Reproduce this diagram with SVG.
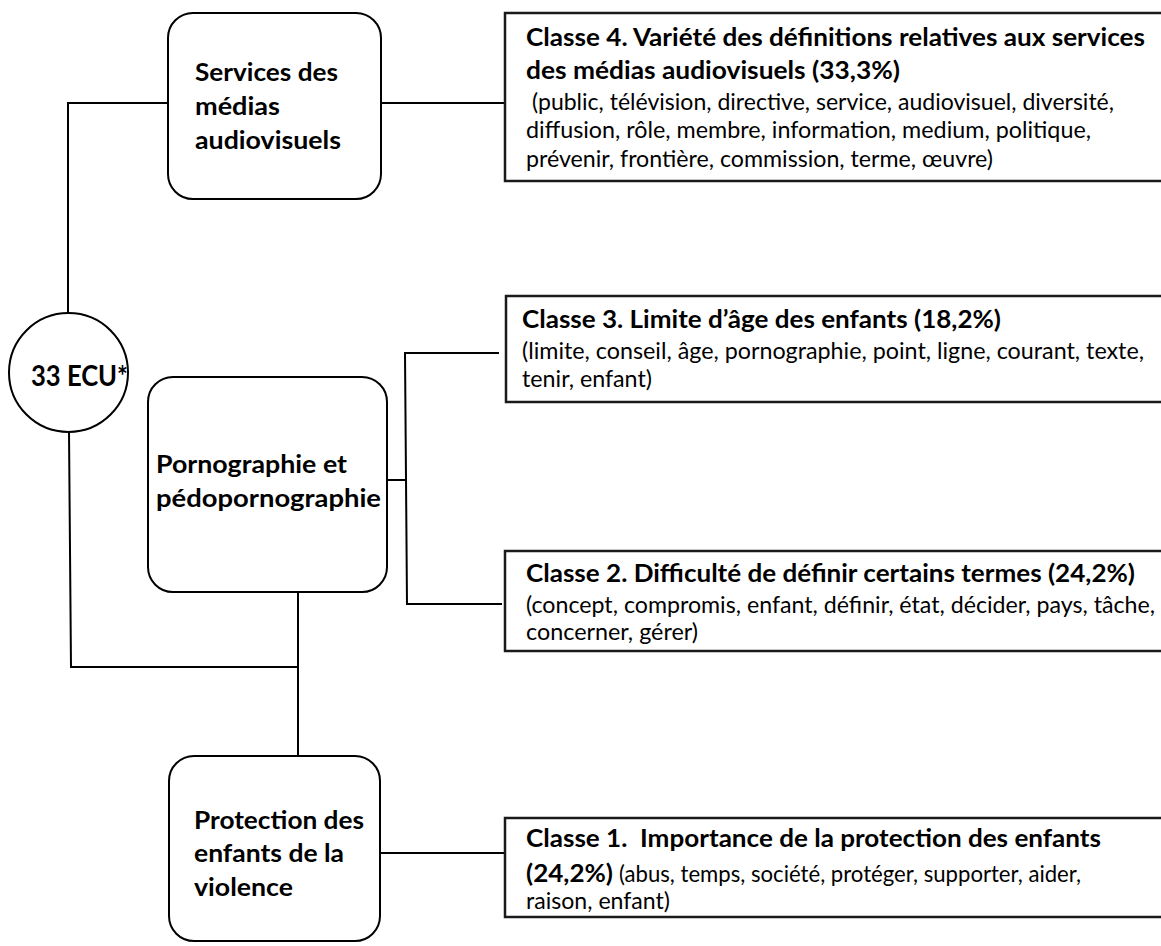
<svg xmlns="http://www.w3.org/2000/svg" width="1161" height="946" viewBox="0 0 1161 946">
<style>
.node{fill:#fff;stroke:#000;stroke-width:2}
.cls{fill:#fff;stroke:#1a1a1a;stroke-width:2.5}
.conn{fill:none;stroke:#000;stroke-width:2}
.lbl{font-family:Lato,"Liberation Sans",sans-serif;font-weight:700;font-size:25.5px;fill:#000}
.ecu{font-family:Lato,"Liberation Sans",sans-serif;font-weight:700;font-size:28px;fill:#000}
.ttl{font-family:Lato,"Liberation Sans",sans-serif;font-weight:700;font-size:24.5px;fill:#000}
.dsc{font-family:Lato,"Liberation Sans",sans-serif;font-weight:400;font-size:22.5px;fill:#000}
</style>
<rect width="1161" height="946" fill="#fff"/>
<g id="connectors">
<path class="conn" d="M68 313 V103 H168"/>
<path class="conn" d="M381 103 H505"/>
<path class="conn" d="M69 432 L71 667 H298"/>
<path class="conn" d="M298 592 V756"/>
<path class="conn" d="M387 480 H405"/>
<path class="conn" d="M499 353 H405 L407 604 H502"/>
<path class="conn" d="M380 853 H505"/>
</g>
<g id="root">
<circle class="node" cx="68.5" cy="372.5" r="59.5"/>
<text class="ecu" x="31" y="386" textLength="97" lengthAdjust="spacingAndGlyphs">33 ECU*</text>
</g>
<g id="services">
<rect class="node" x="168" y="13" width="213" height="186" rx="25"/>
<text class="lbl" x="195" y="81" textLength="143" lengthAdjust="spacingAndGlyphs">Services des</text>
<text class="lbl" x="195" y="115" textLength="85" lengthAdjust="spacingAndGlyphs">médias</text>
<text class="lbl" x="195" y="149" textLength="146" lengthAdjust="spacingAndGlyphs">audiovisuels</text>
</g>
<g id="pornographie">
<rect class="node" x="148" y="377" width="239" height="215" rx="25"/>
<text class="lbl" x="156" y="473" textLength="191" lengthAdjust="spacingAndGlyphs">Pornographie et</text>
<text class="lbl" x="156" y="507" textLength="225" lengthAdjust="spacingAndGlyphs">pédopornographie</text>
</g>
<g id="protection">
<rect class="node" x="169" y="756" width="211" height="185" rx="25"/>
<text class="lbl" x="194" y="829" textLength="170" lengthAdjust="spacingAndGlyphs">Protection des</text>
<text class="lbl" x="194" y="862" textLength="150" lengthAdjust="spacingAndGlyphs">enfants de la</text>
<text class="lbl" x="194" y="896" textLength="99" lengthAdjust="spacingAndGlyphs">violence</text>
</g>
<g id="classe4">
<rect class="cls" x="505" y="13" width="700" height="168"/>
<text class="ttl" x="526" y="46" textLength="619" lengthAdjust="spacingAndGlyphs">Classe 4. Variété des définitions relatives aux services</text>
<text class="ttl" x="526" y="79" textLength="374" lengthAdjust="spacingAndGlyphs">des médias audiovisuels (33,3%)</text>
<text class="dsc" x="532" y="110" textLength="582" lengthAdjust="spacingAndGlyphs">(public, télévision, directive, service, audiovisuel, diversité,</text>
<text class="dsc" x="526" y="138" textLength="565" lengthAdjust="spacingAndGlyphs">diffusion, rôle, membre, information, medium, politique,</text>
<text class="dsc" x="526" y="167" textLength="467" lengthAdjust="spacingAndGlyphs">prévenir, frontière, commission, terme, œuvre)</text>
</g>
<g id="classe3">
<rect class="cls" x="506" y="296" width="700" height="106"/>
<text class="ttl" x="522" y="328" textLength="479" lengthAdjust="spacingAndGlyphs">Classe 3. Limite d’âge des enfants (18,2%)</text>
<text class="dsc" x="522" y="359" textLength="622" lengthAdjust="spacingAndGlyphs">(limite, conseil, âge, pornographie, point, ligne, courant, texte,</text>
<text class="dsc" x="522" y="387" textLength="130" lengthAdjust="spacingAndGlyphs">tenir, enfant)</text>
</g>
<g id="classe2">
<rect class="cls" x="505" y="551" width="700" height="100"/>
<text class="ttl" x="526" y="582" textLength="609" lengthAdjust="spacingAndGlyphs">Classe 2. Difficulté de définir certains termes (24,2%)</text>
<text class="dsc" x="526" y="613" textLength="629" lengthAdjust="spacingAndGlyphs">(concept, compromis, enfant, définir, état, décider, pays, tâche,</text>
<text class="dsc" x="526" y="640" textLength="172" lengthAdjust="spacingAndGlyphs">concerner, gérer)</text>
</g>
<g id="classe1">
<rect class="cls" x="505" y="818" width="700" height="99"/>
<text class="ttl" x="526" y="847" textLength="575" lengthAdjust="spacingAndGlyphs" style="white-space:pre">Classe 1.  Importance de la protection des enfants</text>
<text class="ttl" x="526" y="882" textLength="87" lengthAdjust="spacingAndGlyphs">(24,2%)</text>
<text class="dsc" x="619" y="882" textLength="462" lengthAdjust="spacingAndGlyphs">(abus, temps, société, protéger, supporter, aider,</text>
<text class="dsc" x="526" y="909" textLength="144" lengthAdjust="spacingAndGlyphs">raison, enfant)</text>
</g>
</svg>
